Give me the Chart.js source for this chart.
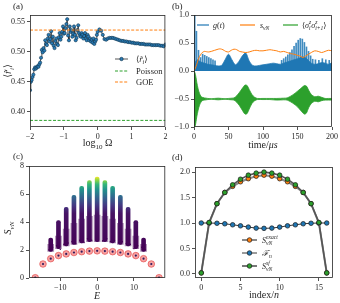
<!DOCTYPE html>
<html lang="en">
<head>
<meta charset="UTF-8">
<title>Scar panels</title>
<script src="https://cdn.jsdelivr.net/npm/chart.js@4.4.1/dist/chart.umd.min.js"></script>
<style>
  * { margin: 0; padding: 0; box-sizing: border-box; }
  html, body { width: 340px; height: 303px; background: #fff; overflow: hidden; }
  canvas { position: absolute; }
  #pa { left: 0; top: 0; }
  #pb { left: 170px; top: 0; }
  #pc { left: 0; top: 150px; }
  #pd { left: 170px; top: 150px; }
</style>
</head>
<body>
<canvas id="pa" width="170" height="150"></canvas>
<canvas id="pb" width="170" height="150"></canvas>
<canvas id="pc" width="170" height="153"></canvas>
<canvas id="pd" width="170" height="153"></canvas>
<script>
// (a) mean gap ratio vs log10 Omega
const rOmega = [
  -2.000,-1.975,-1.950,-1.925,-1.900,-1.875,-1.850,-1.825,-1.800,-1.775,-1.750,-1.725,-1.700,-1.675,-1.650,-1.625,
  -1.600,-1.575,-1.550,-1.525,-1.500,-1.475,-1.450,-1.425,-1.400,-1.375,-1.350,-1.325,-1.300,-1.275,-1.250,-1.225,
  -1.200,-1.175,-1.150,-1.125,-1.100,-1.075,-1.050,-1.025,-1.000,-0.975,-0.950,-0.925,-0.900,-0.875,-0.850,-0.825,
  -0.800,-0.775,-0.750,-0.725,-0.700,-0.675,-0.650,-0.625,-0.600,-0.575,-0.550,-0.525,-0.500,-0.475,-0.450,-0.425,
  -0.400,-0.375,-0.350,-0.325,-0.300,-0.275,-0.250,-0.225,-0.200,-0.175,-0.150,-0.125,-0.100,-0.075,-0.050,-0.025,
  0.000,0.05,0.10,0.15,0.20,0.25,0.30,0.35,0.40,0.45,0.50,0.55,0.60,0.65,0.70,0.75,0.80,0.85,0.90,0.95,
  1.00,1.05,1.10,1.15,1.20,1.25,1.30,1.35,1.40,1.45,1.50,1.55,1.60,1.65,1.70,1.75,1.80,1.85,1.90,1.95,2.00
];
const rMean = [
  0.436,0.450,0.453,0.458,0.462,0.471,0.474,0.472,0.474,0.476,0.475,0.479,0.482,0.490,0.503,0.499,
  0.506,0.502,0.519,0.513,0.511,0.522,0.528,0.517,0.521,0.534,0.514,0.525,0.510,0.506,0.518,0.522,
  0.513,0.511,0.524,0.531,0.520,0.525,0.533,0.542,0.530,0.531,0.539,0.546,0.554,0.527,0.519,0.542,
  0.533,0.536,0.525,0.530,0.542,0.528,0.519,0.523,0.536,0.544,0.531,0.527,0.525,0.531,0.528,0.522,
  0.526,0.531,0.522,0.519,0.528,0.525,0.519,0.522,0.517,0.520,0.515,0.522,0.513,0.517,0.520,0.528,
  0.533,0.537,0.535,0.528,0.521,0.520,0.522,0.523,0.523,0.523,0.522,0.521,0.520,0.519,0.518,0.518,0.517,0.517,0.516,0.516,
  0.515,0.515,0.514,0.514,0.514,0.513,0.513,0.513,0.512,0.512,0.512,0.512,0.511,0.511,0.511,0.511,0.511,0.510,0.510,0.509,0.512
];
const poissonLevel = 0.386;
const goeLevel = 0.536;
const aXTicks = [-2, -1, 0, 1, 2];
const aYTicks = [0.40, 0.45, 0.50, 0.55];

// (b) time traces
const gTime = [0,2,5,10,15,20,25,30,35,40,45,50,55,60,65,70,75,80,85,90,95,100,105,110,115,120,125,130,135,140,145,150,155,160,165,170,175,180,185,190,195,200];
const gBand = [0.00,0.16,0.20,0.16,0.14,0.12,0.11,0.10,0.09,0.10,0.20,0.30,0.20,0.11,0.17,0.27,0.32,0.18,0.10,0.09,0.10,0.11,0.12,0.13,0.14,0.13,0.12,0.14,0.16,0.18,0.20,0.22,0.24,0.25,0.20,0.14,0.12,0.13,0.15,0.14,0.12,0.15];
const gSpikeTime = [1.0,3.5,6.5,9.5,12.5,15.5,18.5,21.5,24.5,27.5,30.5,127,130,133,136,139,142,145,148,151,154,157,160,163,166,169,172,176,181,186,191,196];
const gSpikeHeight = [1.0,0.71,0.37,0.24,0.30,0.28,0.26,0.24,0.22,0.20,0.18,0.19,0.22,0.25,0.29,0.33,0.38,0.44,0.50,0.55,0.58,0.57,0.51,0.43,0.35,0.27,0.21,0.20,0.19,0.22,0.20,0.19];
const sTime = [0,2,4,6,8,10,12,15,18,21,25,30,35,38,42,46,50,54,58,62,66,70,75,80,85,90,95,100,105,110,115,120,125,130,135,140,145,150,155,158,162,166,170,175,180,185,190,195,200];
const sVN = [0,0.05,0.12,0.20,0.26,0.30,0.33,0.35,0.345,0.34,0.35,0.37,0.39,0.395,0.38,0.35,0.34,0.37,0.39,0.38,0.35,0.34,0.33,0.34,0.36,0.37,0.36,0.36,0.37,0.38,0.37,0.36,0.34,0.35,0.33,0.31,0.30,0.28,0.26,0.24,0.27,0.30,0.33,0.36,0.35,0.33,0.35,0.37,0.36];
const zzTime = [0,1,2,3,4,6,8,10,12,15,20,25,30,35,40,45,50,55,58,62,66,70,74,77,80,84,88,92,100,110,120,130,135,140,145,150,155,160,163,166,170,175,180,185,190,195,200];
const zzUpper = [0,-0.02,-0.06,-0.12,-0.2,-0.32,-0.4,-0.45,-0.47,-0.48,-0.49,-0.495,-0.49,-0.485,-0.49,-0.495,-0.49,-0.485,-0.48,-0.44,-0.38,-0.31,-0.25,-0.26,-0.33,-0.42,-0.47,-0.49,-0.49,-0.49,-0.49,-0.485,-0.48,-0.45,-0.41,-0.36,-0.31,-0.26,-0.27,-0.34,-0.42,-0.46,-0.45,-0.47,-0.49,-0.49,-0.49];
const zzLower = [-1,-1,-0.97,-0.9,-0.82,-0.7,-0.61,-0.56,-0.53,-0.52,-0.51,-0.505,-0.51,-0.515,-0.51,-0.505,-0.51,-0.515,-0.52,-0.56,-0.62,-0.7,-0.77,-0.76,-0.68,-0.58,-0.53,-0.51,-0.51,-0.51,-0.52,-0.515,-0.52,-0.55,-0.59,-0.64,-0.71,-0.77,-0.75,-0.66,-0.58,-0.54,-0.55,-0.53,-0.52,-0.52,-0.52];
const bXTicks = [0, 50, 100, 150, 200];
const bYTicks = [-1, -0.5, 0, 0.5, 1];

// (c) entanglement vs energy
const colEnergy = [-12.6,-10.5,-8.4,-6.3,-4.2,-2.1,0,2.1,4.2,6.3,8.4,10.5,12.6];
const colBottom = [1.9,2.1,2.3,2.4,2.5,2.6,2.6,2.6,2.5,2.4,2.3,2.1,1.9];
const colNeck = [2.4,3.0,3.5,3.9,4.2,4.4,4.5,4.4,4.2,3.9,3.5,3.0,2.4];
const colTop = [2.85,4.1,5.05,5.9,6.55,6.95,7.2,6.95,6.55,5.9,5.05,4.1,2.85];
const strayEnergy = [-13.1,-12.1,-11.0,-10.0,-9.0,-7.9,-6.8,-5.8,-4.7,-3.6,-2.6,-1.5,1.5,2.6,3.6,4.7,5.8,6.8,7.9,9.0,10.0,11.0,12.1,13.1];
const strayEntropy = [2.0,2.2,2.3,2.05,2.4,2.5,2.6,2.45,2.7,2.55,2.8,2.7,2.65,2.8,2.6,2.7,2.5,2.6,2.45,2.4,2.1,2.3,2.2,2.0];
const scarEnergy = [-16.8,-14.7,-12.6,-10.5,-8.4,-6.3,-4.2,-2.1,0,2.1,4.2,6.3,8.4,10.5,12.6,14.7,16.8];
const scarEntropy = [0.02,1.0,1.38,1.6,1.72,1.82,1.88,1.92,1.94,1.92,1.88,1.82,1.72,1.6,1.38,1.0,0.02];
const cXTicks = [-10, 0, 10];
const cYTicks = [0, 2, 4, 6, 8];

// (d) scar entropies and fidelity
const siteIndex = [0,1,2,3,4,5,6,7,8,9,10,11,12,13,14,15,16];
const sExact = [0.02,1.0,1.38,1.6,1.72,1.81,1.87,1.92,1.94,1.92,1.87,1.81,1.72,1.6,1.38,1.0,0.02];
const fidelity = [1.0,1.0,0.995,0.985,0.965,0.945,0.92,0.9,0.895,0.9,0.92,0.945,0.965,0.985,0.995,1.0,1.0];
const sSF = [0.02,1.01,1.38,1.6,1.75,1.86,1.94,1.98,2.0,1.98,1.94,1.86,1.75,1.6,1.38,1.01,0.02];
const dXTicks = [0, 5, 10, 15];
const dYTicks = [0, 0.5, 1, 1.5, 2];

const SERIF = "'Liberation Serif', 'DejaVu Serif', serif";
const INK = '#262626';
const BLUE = '#1f77b4', ORANGE = '#ff7f0e', GREEN = '#2ca02c';

const pts = (xs, ys) => xs.map((x, i) => ({ x, y: ys[i] }));
const fixed = d => v => (v < 0 ? '\u2212' : '') + Math.abs(v).toFixed(d);

function axis(min, max, ticks, fmt, pos, fit) {
  return {
    type: 'linear', position: pos, min, max, offset: false,
    afterBuildTicks: s => { s.ticks = ticks.map(v => ({ value: v })); },
    afterFit: s => { if (pos === 'left') s.width = fit; else s.height = fit; },
    grid: { offset: false, drawOnChartArea: false, drawTicks: true, tickLength: 3, color: INK, lineWidth: 0.8 },
    border: { display: false },
    ticks: { autoSkip: false, maxRotation: 0, padding: 2, color: INK,
      font: { family: SERIF, size: 8 }, callback: v => fmt(v) }
  };
}

function options(x, y, pad) {
  return {
    responsive: false, animation: false, devicePixelRatio: 1,
    layout: { padding: pad },
    plugins: { legend: { display: false }, tooltip: { enabled: false } },
    scales: { x, y }
  };
}

// text with simple sub/superscripts; y is the vertical middle of the text
function rich(ctx, parts, x, y, size, align, rot) {
  const run = draw => {
    let cx = 0, keep = 0;
    for (const p of parts) {
      const fs = p.b ? size * 0.7 : size;
      ctx.font = (p.i ? 'italic ' : '') + fs + 'px ' + SERIF;
      const w = ctx.measureText(p.t).width;
      if (draw) ctx.fillText(p.t, cx, p.b ? (p.b < 0 ? size * 0.28 : -size * 0.42) : 0);
      if (p.k) keep = w; else { cx += Math.max(w, keep); keep = 0; }
    }
    return cx;
  };
  ctx.save();
  ctx.translate(x, y);
  if (rot) ctx.rotate(rot);
  ctx.fillStyle = INK; ctx.textAlign = 'left'; ctx.textBaseline = 'alphabetic';
  const w = run(false);
  ctx.translate(align === 'center' ? -w / 2 : align === 'right' ? -w : 0, size * 0.34);
  run(true);
  ctx.restore();
}
const T = (t, o) => Object.assign({ t }, o || {});

function sample(ctx, x0, x1, y, color, width, dash, marker) {
  ctx.save();
  ctx.strokeStyle = color; ctx.lineWidth = width; ctx.setLineDash(dash || []);
  ctx.beginPath(); ctx.moveTo(x0, y); ctx.lineTo(x1, y); ctx.stroke();
  if (marker) {
    ctx.setLineDash([]);
    ctx.beginPath(); ctx.arc((x0 + x1) / 2, y, marker.r, 0, Math.PI * 2);
    ctx.fillStyle = marker.fill; ctx.fill();
    ctx.strokeStyle = marker.edge; ctx.lineWidth = 0.7; ctx.stroke();
  }
  ctx.restore();
}

function decor(fn) {
  return {
    id: 'decor',
    afterDraw(chart) {
      const ctx = chart.ctx, a = chart.chartArea;
      ctx.save();
      ctx.strokeStyle = INK; ctx.lineWidth = 0.8;
      ctx.strokeRect(a.left + 0.5, a.top + 0.5, a.right - a.left - 1, a.bottom - a.top - 1);
      fn(ctx, a);
      ctx.restore();
    }
  };
}

const rTilde = [T('\u27e8'), T('r\u0303', { i: 1 }), T('i', { i: 1, b: -1 }), T('\u27e9')];

// panel (a)
new Chart(document.getElementById('pa'), {
  type: 'line',
  data: { datasets: [
    { data: pts(rOmega, rMean), borderColor: '#2b2b2b', borderWidth: 0.8, pointRadius: 1.6,
      pointBackgroundColor: '#2a7db8', pointBorderColor: '#10354f', pointBorderWidth: 0.6, order: 3 },
    { data: pts([-2, 2], [poissonLevel, poissonLevel]), borderColor: GREEN, borderWidth: 1,
      borderDash: [3, 1.6], pointRadius: 0, order: 2 },
    { data: pts([-2, 2], [goeLevel, goeLevel]), borderColor: ORANGE, borderWidth: 1,
      borderDash: [3, 1.6], pointRadius: 0, order: 1 }
  ]},
  options: options(axis(-2, 2, aXTicks, v => fixed(0)(v), 'bottom', 23),
                   axis(0.375, 0.561, aYTicks, fixed(2), 'left', 30), { top: 15, right: 3 }),
  plugins: [decor((ctx, a) => {
    rich(ctx, [T('(a)')], 13, 6, 9, 'left');
    rich(ctx, rTilde, 8, 71, 10, 'center', -Math.PI / 2);
    rich(ctx, [T('log'), T('10', { b: -1 }), T(' \u03a9', { i: 0 })], (a.left + a.right) / 2, 143, 10, 'center');
    sample(ctx, 115, 128, 59, '#2b2b2b', 0.8, null, { r: 1.7, fill: '#2a7db8', edge: '#10354f' });
    rich(ctx, rTilde, 136, 59, 8.5, 'left');
    sample(ctx, 115, 128, 71, GREEN, 1, [3, 1.6]);
    rich(ctx, [T('Poisson')], 136, 71, 8.5, 'left');
    sample(ctx, 115, 128, 82, ORANGE, 1, [3, 1.6]);
    rich(ctx, [T('GOE')], 136, 82, 8.5, 'left');
  })]
});

// panel (b)
new Chart(document.getElementById('pb'), {
  type: 'line',
  data: { datasets: [
    { type: 'bar', data: pts(gSpikeTime, gSpikeHeight), backgroundColor: 'rgba(31,119,180,0.85)',
      barThickness: 1, grouped: false, order: 6 },
    { data: pts(gTime, gBand), borderColor: BLUE, backgroundColor: BLUE, borderWidth: 0.8,
      fill: 'origin', pointRadius: 0, tension: 0.3, order: 5 },
    { data: pts(sTime, sVN), borderColor: ORANGE, borderWidth: 1, pointRadius: 0, tension: 0.3, order: 3 },
    { data: pts(zzTime, zzUpper), borderColor: GREEN, backgroundColor: GREEN, borderWidth: 0.8,
      fill: '+1', pointRadius: 0, tension: 0.3, order: 1 },
    { data: pts(zzTime, zzLower), borderColor: GREEN, borderWidth: 0.8, pointRadius: 0, tension: 0.3, order: 2 }
  ]},
  options: options(axis(0, 200, bXTicks, fixed(0), 'bottom', 23),
                   axis(-1, 1, bYTicks, fixed(1), 'left', 24), { top: 15, right: 7 }),
  plugins: [decor((ctx, a) => {
    rich(ctx, [T('(b)')], 2, 6, 9, 'left');
    rich(ctx, [T('time/'), T('\u03bcs', { i: 1 })], (a.left + a.right) / 2, 145, 10, 'center');
    sample(ctx, 27, 39, 25, BLUE, 1.2);
    rich(ctx, [T('g', { i: 1 }), T('('), T('t', { i: 1 }), T(')')], 43, 25, 8, 'left');
    sample(ctx, 70, 85, 25, ORANGE, 1.2);
    rich(ctx, [T('s', { i: 1 }), T('vN', { i: 1, b: -1 })], 90, 25, 8, 'left');
    sample(ctx, 113, 128, 25, GREEN, 1.2);
    rich(ctx, [T('\u27e8'), T('\u03c3', { i: 1 }), T('z', { i: 1, b: 1, k: 1 }), T('i', { i: 1, b: -1 }),
               T('\u03c3', { i: 1 }), T('z', { i: 1, b: 1, k: 1 }), T('i+1', { i: 1, b: -1 }), T('\u27e9')],
         132, 25, 8, 'left');
  })]
});

// panel (c)
const viridisStops = [[2, '#440154'], [4.6, '#471365'], [5.2, '#443983'], [5.8, '#31688e'],
                      [6.3, '#21918c'], [6.7, '#35b779'], [7.0, '#90d743'], [7.25, '#fde725']];
function columnFill(c) {
  const chart = c.chart;
  if (!chart.chartArea) return '#440154';
  const y = chart.scales.y;
  const p0 = y.getPixelForValue(2), p1 = y.getPixelForValue(7.25);
  const g = chart.ctx.createLinearGradient(0, p0, 0, p1);
  viridisStops.forEach(([v, col]) => g.addColorStop((v - 2) / 5.25, col));
  return g;
}
new Chart(document.getElementById('pc'), {
  type: 'line',
  data: { datasets: [
    { type: 'bar', data: colEnergy.map((x, i) => ({ x, y: [colBottom[i], colNeck[i]] })),
      backgroundColor: 'rgba(68,1,84,0.45)', barThickness: 6, grouped: false, order: 6 },
    { type: 'bar', data: colEnergy.map((x, i) => ({ x, y: [colBottom[i], colTop[i]] })),
      backgroundColor: columnFill, barThickness: 4, borderRadius: 2, borderSkipped: false,
      grouped: false, order: 5 },
    { data: pts(strayEnergy, strayEntropy), showLine: false, pointRadius: 0.8,
      pointBackgroundColor: '#440154', pointBorderWidth: 0, order: 4 },
    { data: pts(scarEnergy, scarEntropy), showLine: false, pointRadius: 3.3,
      pointBackgroundColor: 'rgba(240,85,85,0.55)', pointBorderColor: 'rgba(225,60,60,0.85)',
      pointBorderWidth: 0.7, clip: 0, order: 2 },
    { data: pts(scarEnergy, scarEntropy), showLine: false, pointRadius: 1.1,
      pointBackgroundColor: '#2d1b5e', pointBorderWidth: 0, clip: 0, order: 1 }
  ]},
  options: options(axis(-18.5, 18.5, cXTicks, fixed(0), 'bottom', 25),
                   axis(0, 8, cYTicks, fixed(0), 'left', 29), { top: 16, right: 3 }),
  plugins: [decor((ctx, a) => {
    rich(ctx, [T('(c)')], 13, 6, 9, 'left');
    rich(ctx, [T('S', { i: 1 }), T('vN', { i: 1, b: -1 })], 8, 78, 10, 'center', -Math.PI / 2);
    rich(ctx, [T('E', { i: 1 })], (a.left + a.right) / 2, 146, 10, 'center');
  })]
});

// panel (d)
const mk = (fill) => ({ pointRadius: 2.3, pointBackgroundColor: fill, pointBorderColor: '#1a1a1a', pointBorderWidth: 0.7 });
new Chart(document.getElementById('pd'), {
  type: 'line',
  data: { datasets: [
    Object.assign({ data: pts(siteIndex, sExact), borderColor: '#8a8a8a', borderWidth: 2, order: 3 }, mk(ORANGE)),
    Object.assign({ data: pts(siteIndex, fidelity), borderColor: '#222', borderWidth: 0.9, order: 2 }, mk(BLUE)),
    Object.assign({ data: pts(siteIndex, sSF), borderColor: '#555', borderWidth: 1.6, order: 1 }, mk(GREEN))
  ]},
  options: options(axis(-0.8, 16.8, dXTicks, fixed(0), 'bottom', 25),
                   axis(-0.08, 2.1, dYTicks, fixed(1), 'left', 25), { top: 17, right: 7 }),
  plugins: [decor((ctx, a) => {
    rich(ctx, [T('(d)')], 2, 7, 9, 'left');
    rich(ctx, [T('index/'), T('n', { i: 1 })], (a.left + a.right) / 2, 145, 10, 'center');
    sample(ctx, 72, 87, 90, '#8a8a8a', 2, null, { r: 2.3, fill: ORANGE, edge: '#1a1a1a' });
    rich(ctx, [T('S', { i: 1 }), T('exact', { i: 1, b: 1, k: 1 }), T('vN', { i: 1, b: -1 })], 92, 90, 8, 'left');
    sample(ctx, 72, 87, 103, '#222', 0.9, null, { r: 2.3, fill: BLUE, edge: '#1a1a1a' });
    rich(ctx, [T('\u2131', { i: 1 }), T('n', { i: 1, b: -1 })], 92, 103, 8, 'left');
    sample(ctx, 72, 87, 116, '#555', 1.6, null, { r: 2.3, fill: GREEN, edge: '#1a1a1a' });
    rich(ctx, [T('S', { i: 1 }), T('sf', { i: 1, b: 1, k: 1 }), T('vN', { i: 1, b: -1 })], 92, 116, 8, 'left');
  })]
});
</script>
</body>
</html>
